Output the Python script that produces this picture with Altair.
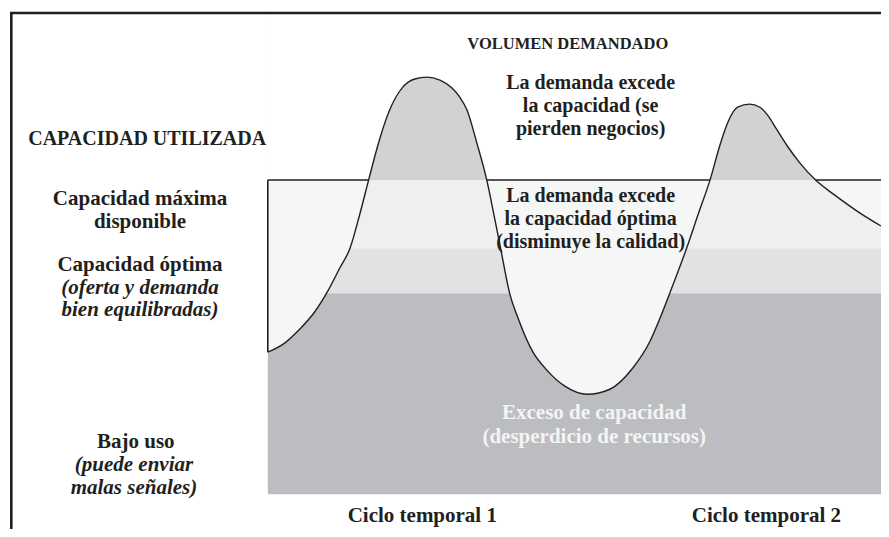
import altair as alt
import pandas as pd

# Demand curve (time units, capacity units: 0 = bottom of scale, 100 = max capacity)
CURVE_T = [0, 2.8, 5.3, 7.8, 9.8, 12.0, 13.7, 15.3, 16.8, 18.3, 20.3, 22.5, 24.5, 26.5,
           28.7, 30.7, 32.0, 33.2, 34.8, 36.5, 37.8, 38.8, 40.3, 41.7, 44.2, 46.5, 49.5,
           53.3, 57.0, 60.8, 63.7, 65.7, 67.0, 69.8, 71.8, 73.7, 75.3, 76.7, 78.3, 80.3,
           82.0, 83.3, 84.8, 86.5, 88.7, 91.3, 94.5, 98.7, 102.2]
CURVE_D = [45.2, 48.1, 52.5, 58.0, 64.0, 72.0, 78.3, 88.9, 100, 110.8, 122.3, 129.6, 132.2,
           132.8, 131.8, 129.3, 126.4, 122.3, 112.1, 100, 87.9, 78.3, 64.0, 56.1, 45.2, 39.5,
           34.4, 31.8, 33.4, 40.1, 48.7, 57.6, 64.0, 78.3, 89.5, 100, 110.8, 118.5, 123.2,
           124.2, 123.2, 120.7, 116.2, 111.1, 105.4, 100, 95.2, 89.5, 85.4]

LEVELS = [0, 64.0, 78.3, 100]
ZONES = ["Exceso de capacidad", "Capacidad óptima", "Capacidad máxima"]
ZONE_COLORS = ["#bcbdc0", "#e1e2e3", "#eeefef"]
OVER_COLOR = "#d1d2d4"
OUTSIDE_COLOR = "#f5f6f6"
INK = "#231f20"
FONT = "Liberation Serif"

X_DOMAIN = [-43.3, 102.2]
Y_DOMAIN = [-11.1, 154.8]

curve = pd.DataFrame({"t": CURVE_T, "d": CURVE_D})
curve["d_top"] = curve["d"].clip(lower=LEVELS[-1])
curve["sky"] = Y_DOMAIN[1]

t0, t1 = CURVE_T[0], CURVE_T[-1]

# pieces of the max-capacity line lying outside the demand curve
segs = []
start = prev = None
for t, d in zip(CURVE_T, CURVE_D):
    if d <= LEVELS[-1] + 1e-9:
        if start is None:
            start = t
        prev = t
    else:
        if start is not None:
            segs.append((start, prev))
            start = None
if start is not None:
    segs.append((start, prev))

bands = pd.DataFrame({"zone": ZONES, "lo": LEVELS[:-1], "hi": LEVELS[1:], "t0": t0, "t1": t1})
topband = pd.DataFrame({"lo": [LEVELS[-1]], "hi": [Y_DOMAIN[1]], "t0": [segs[0][1]], "t1": [t1]})
segdf = pd.DataFrame({"s": [a for a, b in segs], "e": [b for a, b in segs], "lvl": LEVELS[-1]})
leftdf = pd.DataFrame({"t": [t0], "a": [CURVE_D[0]], "b": [LEVELS[-1]]})
dummy = pd.DataFrame({"k": [0]})

xs = alt.Scale(domain=X_DOMAIN, nice=False, zero=False)
ys = alt.Scale(domain=Y_DOMAIN, nice=False, zero=False)

def X(f):
    return alt.X(f, type="quantitative", scale=xs, axis=None)

def Y(f):
    return alt.Y(f, type="quantitative", scale=ys, axis=None)

band_layer = alt.Chart(bands).mark_rect().encode(
    x=X("t0"), x2="t1", y=Y("lo"), y2="hi",
    color=alt.Color("zone:N", scale=alt.Scale(domain=ZONES, range=ZONE_COLORS), legend=None),
)
top_layer = alt.Chart(topband).mark_rect(color=OVER_COLOR).encode(
    x=X("t0"), x2="t1", y=Y("lo"), y2="hi"
)
outside_area = alt.Chart(curve).mark_area(color=OUTSIDE_COLOR, interpolate="monotone").encode(
    x=X("t"), y=Y("d"), y2="sky"
)
white_area = alt.Chart(curve).mark_area(color="white", interpolate="linear").encode(
    x=X("t"), y=Y("d_top"), y2="sky"
)
left_rule = alt.Chart(leftdf).mark_rule(color=INK, strokeWidth=1.6).encode(
    x=X("t"), y=Y("a"), y2="b"
)
top_rules = alt.Chart(segdf).mark_rule(color=INK, strokeWidth=1.5).encode(
    x=X("s"), x2="e", y=Y("lvl")
)
line = alt.Chart(curve).mark_line(color=INK, strokeWidth=1.4, interpolate="monotone").encode(
    x=X("t"), y=Y("d")
)
frame_top = alt.Chart(dummy).mark_rule(color=INK, strokeWidth=2.6).encode(
    x=alt.value(2), x2=alt.value(873), y=alt.value(5)
)
frame_left = alt.Chart(dummy).mark_rule(color=INK, strokeWidth=2.6).encode(
    x=alt.value(3.3), y=alt.value(4), y2=alt.value(521)
)

WHITE_TXT = "#f4f4f4"
LABELS_N = [
    ("VOLUMEN DEMANDADO", 50.0, 143.3, INK, 16.5),
    ("La demanda excede", 53.8, 130.9, INK, 20),
    ("la capacidad (se", 53.8, 123.6, INK, 20),
    ("pierden negocios)", 53.8, 116.3, INK, 20),
    ("CAPACIDAD UTILIZADA", -20.1, 113.1, INK, 20),
    ("Capacidad máxima", -21.3, 93.9, INK, 21),
    ("disponible", -21.3, 86.6, INK, 21),
    ("La demanda excede", 53.8, 94.9, INK, 20),
    ("la capacidad óptima", 53.8, 87.6, INK, 20),
    ("(disminuye la calidad)", 53.8, 80.2, INK, 20),
    ("Capacidad óptima", -21.3, 72.9, INK, 21),
    ("Exceso de capacidad", 54.4, 25.8, WHITE_TXT, 21),
    ("(desperdicio de recursos)", 54.4, 18.2, WHITE_TXT, 21),
    ("Bajo uso", -22.0, 16.6, INK, 21),
    ("Ciclo temporal 1", 25.75, -7.0, INK, 21),
    ("Ciclo temporal 2", 83.1, -7.0, INK, 21),
]
LABELS_I = [
    ("(oferta y demanda", -21.3, 65.6, INK, 21),
    ("bien equilibradas)", -21.3, 58.6, INK, 21),
    ("(puede enviar", -22.3, 9.2, INK, 21),
    ("malas señales)", -22.3, 1.9, INK, 21),
]

def lab_df(rows):
    return pd.DataFrame(rows, columns=["txt", "u", "v", "col", "fs"])

text_n = alt.Chart(lab_df(LABELS_N)).mark_text(
    font=FONT, fontWeight="bold", align="center", baseline="middle"
).encode(
    x=X("u"), y=Y("v"), text="txt:N",
    color=alt.Color("col:N", scale=None), size=alt.Size("fs:Q", scale=None),
)
text_i = alt.Chart(lab_df(LABELS_I)).mark_text(
    font=FONT, fontWeight="bold", fontStyle="italic", align="center", baseline="middle"
).encode(
    x=X("u"), y=Y("v"), text="txt:N",
    color=alt.Color("col:N", scale=None), size=alt.Size("fs:Q", scale=None),
)

chart = alt.layer(
    band_layer, top_layer, outside_area, white_area, left_rule, top_rules, line,
    frame_top, frame_left, text_n, text_i,
).properties(
    width=873, height=521, padding=0, autosize="none", background="white"
).configure_view(stroke=None)

chart.save("out.html", embed_options={"renderer": "svg", "actions": False})
